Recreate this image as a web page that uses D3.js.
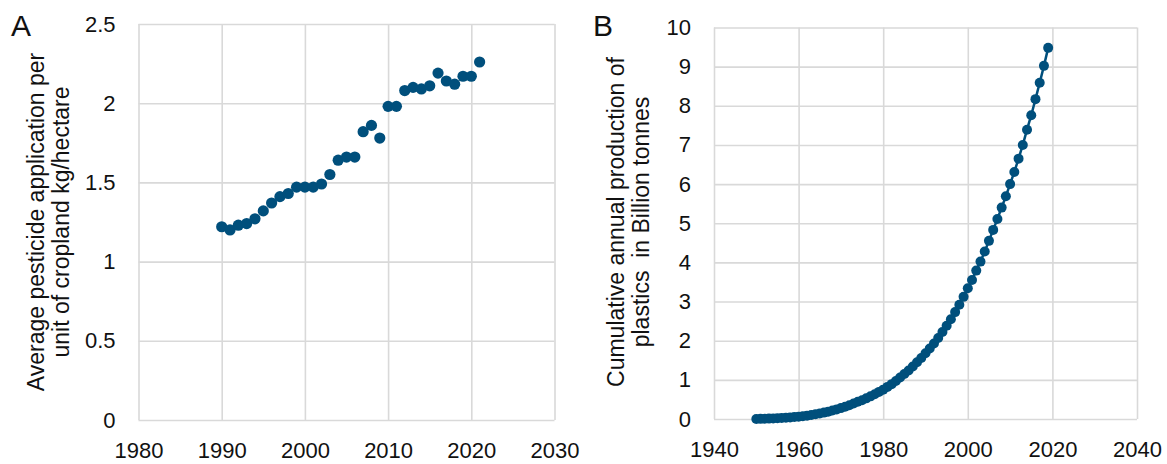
<!DOCTYPE html>
<html>
<head>
<meta charset="utf-8">
<script src="https://cdn.jsdelivr.net/npm/d3@7"></script>
<style>
	body { margin: 0; background: #fff; }
	svg text { font-family: "Liberation Sans", Arial, sans-serif; fill: #111; }
</style>
</head>
<body>
<div id="chart"></div>
<script>
// panel A: pesticide use
const yearsA = [1990, 1991, 1992, 1993, 1994, 1995, 1996, 1997, 1998, 1999,
	2000, 2001, 2002, 2003, 2004, 2005, 2006, 2007, 2008, 2009,
	2010, 2011, 2012, 2013, 2014, 2015, 2016, 2017, 2018, 2019, 2020, 2021];
const pesticide = [1.22, 1.20, 1.23, 1.24, 1.27, 1.32, 1.37, 1.41, 1.43, 1.47,
	1.47, 1.47, 1.49, 1.55, 1.64, 1.66, 1.66, 1.82, 1.86, 1.78,
	1.98, 1.98, 2.08, 2.10, 2.09, 2.11, 2.19, 2.14, 2.12, 2.17, 2.17, 2.26];

// panel B: cumulative plastics, 1950-2019
const yearsB = d3.range(1950, 2020);
const plastics = [0.002, 0.004, 0.007, 0.010, 0.014, 0.019, 0.025, 0.032, 0.040, 0.050,
	0.060, 0.072, 0.086, 0.102, 0.120, 0.140, 0.163, 0.188, 0.215, 0.245,
	0.278, 0.313, 0.352, 0.395, 0.440, 0.480, 0.527, 0.578, 0.633, 0.692,
	0.75, 0.82, 0.89, 0.97, 1.06, 1.15, 1.24, 1.34, 1.45, 1.56,
	1.68, 1.80, 1.93, 2.07, 2.22, 2.38, 2.55, 2.73, 2.92, 3.12,
	3.34, 3.55, 3.79, 4.02, 4.28, 4.55, 4.83, 5.11, 5.40, 5.69,
	6.00, 6.31, 6.65, 7.00, 7.39, 7.76, 8.17, 8.59, 9.02, 9.48];

const ticksA_x = [1980, 1990, 2000, 2010, 2020, 2030];
const ticksA_y = [0, 0.5, 1, 1.5, 2, 2.5];
const ticksB_x = [1940, 1960, 1980, 2000, 2020, 2040];
const ticksB_y = d3.range(0, 11);

const dotColor = "#004f7c";
const gridColor = "#d9d9d9";

const svg = d3.select("#chart").append("svg")
	.attr("width", 1167)
	.attr("height", 464);

function panel(opts) {
	const x = d3.scaleLinear().domain(opts.xDomain).range(opts.xRange);
	const y = d3.scaleLinear().domain(opts.yDomain).range(opts.yRange);

	const g = svg.append("g");

	// gridlines
	g.append("g")
		.attr("transform", `translate(0,${opts.yRange[0]})`)
		.call(d3.axisBottom(x).tickValues(opts.xTicks)
			.tickSize(-(opts.yRange[0] - opts.yRange[1])).tickFormat(""))
		.call(a => a.select(".domain").remove())
		.call(a => a.selectAll("line").attr("stroke", gridColor).attr("stroke-width", 1.6));
	g.append("g")
		.attr("transform", `translate(${opts.xRange[0]},0)`)
		.call(d3.axisLeft(y).tickValues(opts.yTicks)
			.tickSize(-(opts.xRange[1] - opts.xRange[0])).tickFormat(""))
		.call(a => a.select(".domain").remove())
		.call(a => a.selectAll("line").attr("stroke", gridColor).attr("stroke-width", 1.6));

	// tick labels
	g.append("g")
		.attr("transform", `translate(0,${opts.yRange[0]})`)
		.call(d3.axisBottom(x).tickValues(opts.xTicks).tickSize(0).tickPadding(22).tickFormat(d3.format("d")))
		.call(a => a.select(".domain").remove())
		.call(a => a.selectAll("text").attr("font-size", 22).attr("font-family", null));
	g.append("g")
		.attr("transform", `translate(${opts.xRange[0]},0)`)
		.call(d3.axisLeft(y).tickValues(opts.yTicks).tickSize(0).tickPadding(23).tickFormat(d => d))
		.call(a => a.select(".domain").remove())
		.call(a => a.selectAll("text").attr("font-size", 22).attr("font-family", null));

	// axis title, two lines
	const title = g.append("text")
		.attr("transform", `translate(${opts.titleX},${opts.titleY}) rotate(-90)`)
		.attr("text-anchor", "middle")
		.attr("font-size", 23);
	opts.title.forEach((t, i) => {
		title.append("tspan")
			.attr("x", 0)
			.attr("dy", i === 0 ? 0 : 25)
			.attr("xml:space", "preserve")
			.text(t);
	});

	// panel letter
	g.append("text")
		.attr("x", opts.letterX)
		.attr("y", 36)
		.attr("font-size", 30)
		.text(opts.letter);

	if (opts.line) {
		g.append("path")
			.datum(opts.data)
			.attr("fill", "none")
			.attr("stroke", dotColor)
			.attr("stroke-width", 2.5)
			.attr("d", d3.line().x(d => x(d[0])).y(d => y(d[1])));
	}

	g.selectAll("circle")
		.data(opts.data)
		.enter().append("circle")
		.attr("cx", d => x(d[0]))
		.attr("cy", d => y(d[1]))
		.attr("r", opts.r)
		.attr("fill", dotColor);
}

panel({
	xDomain: [1980, 2030], xRange: [138.5, 554.5],
	yDomain: [0, 2.5], yRange: [420, 24],
	xTicks: ticksA_x, yTicks: ticksA_y,
	data: yearsA.map((d, i) => [d, pesticide[i]]),
	r: 5.6, line: false,
	title: ["Average pesticide application per", "unit of cropland kg/hectare"],
	titleX: 44, titleY: 222,
	letter: "A", letterX: 11
});

panel({
	xDomain: [1940, 2040], xRange: [714, 1137],
	yDomain: [0, 10], yRange: [419, 27.5],
	xTicks: ticksB_x, yTicks: ticksB_y,
	data: yearsB.map((d, i) => [d, plastics[i]]),
	r: 5, line: true,
	title: ["Cumulative annual production of", "plastics  in Billion tonnes"],
	titleX: 624, titleY: 222,
	letter: "B", letterX: 593
});
</script>
</body>
</html>
